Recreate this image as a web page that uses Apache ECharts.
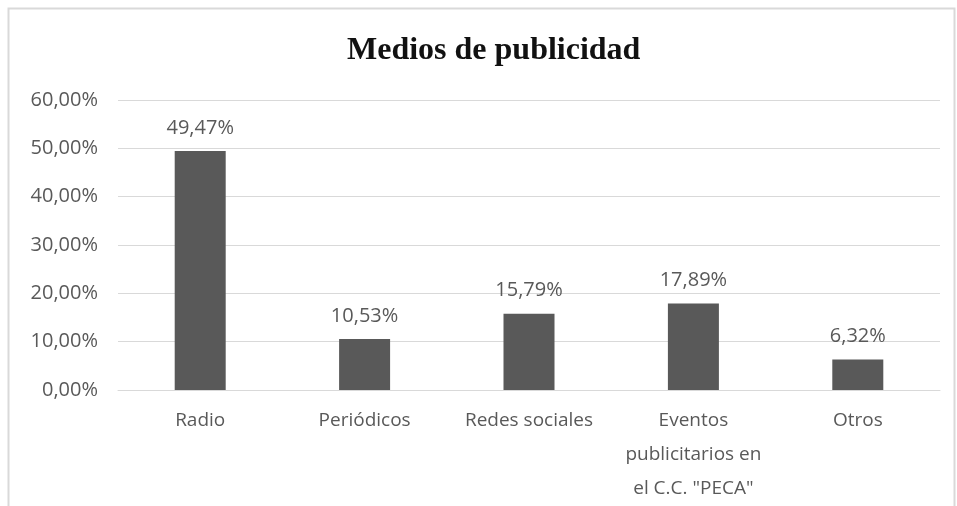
<!DOCTYPE html>
<html>
<head>
<meta charset="utf-8">
<script src="https://cdn.jsdelivr.net/npm/echarts@6/dist/echarts.min.js"></script>
<style>
  html, body { margin: 0; padding: 0; background: #fff; }
  #chart { width: 957px; height: 506px; }
</style>
</head>
<body>
<div id="chart"></div>
<script>
// Advertising media shares (percent)
var categories = ['Radio', 'Periódicos', 'Redes sociales', 'Eventos\npublicitarios en\nel C.C. "PECA"', 'Otros'];
var shares = [49.47, 10.53, 15.79, 17.89, 6.32];
var yTicks = [0, 10, 20, 30, 40, 50, 60];

function pct(v) {
  return v.toFixed(2).replace('.', ',') + '%';
}

var labelFont = '"Open Sans", "Liberation Sans", sans-serif';
var chart = echarts.init(document.getElementById('chart'), null, { renderer: 'canvas' });

chart.setOption({
  animation: false,
  backgroundColor: '#ffffff',
  title: {
    text: 'Medios de publicidad',
    left: 342,
    top: 30,
    textStyle: {
      fontFamily: '"Liberation Serif", "Times New Roman", serif',
      fontWeight: 'bold',
      fontSize: 32,
      color: '#111111'
    }
  },
  graphic: [{
    type: 'rect',
    shape: { x: 8.5, y: 8.5, width: 946, height: 540 },
    style: { fill: null, stroke: '#d9d9d9', lineWidth: 2 },
    silent: true
  }],
  grid: { left: 118, right: 17, top: 100, bottom: 114, containLabel: false },
  xAxis: {
    type: 'category',
    data: categories,
    axisTick: { show: false },
    axisLine: { show: true, lineStyle: { color: '#d9d9d9', width: 1 } },
    axisLabel: {
      interval: 0,
      margin: 14,
      color: '#595959',
      fontFamily: labelFont,
      fontSize: 19,
      lineHeight: 34
    }
  },
  yAxis: {
    type: 'value',
    min: yTicks[0],
    max: yTicks[yTicks.length - 1],
    interval: 10,
    axisLine: { show: false },
    axisTick: { show: false },
    splitLine: { lineStyle: { color: '#d9d9d9', width: 1 } },
    axisLabel: {
      margin: 20,
      color: '#595959',
      fontFamily: labelFont,
      fontSize: 20,
      formatter: function (v) { return pct(v); }
    }
  },
  series: [{
    type: 'bar',
    data: shares,
    barWidth: 51,
    itemStyle: { color: '#595959' },
    label: {
      show: true,
      position: 'top',
      distance: 13,
      color: '#595959',
      fontFamily: labelFont,
      fontSize: 20,
      formatter: function (p) { return pct(p.value); }
    }
  }]
});
</script>
</body>
</html>
